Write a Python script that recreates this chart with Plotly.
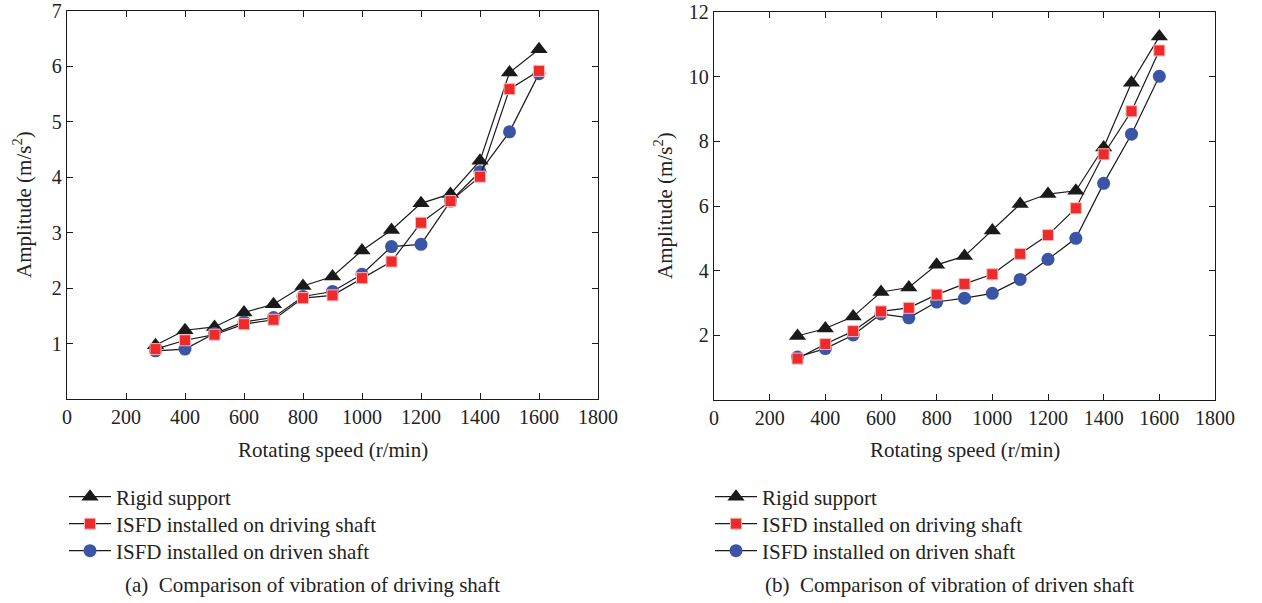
import plotly.graph_objects as go

speed = [300, 400, 500, 600, 700, 800, 900, 1000, 1100, 1200, 1300, 1400, 1500, 1600]

# (a) driving shaft
a_rigid = [0.97, 1.24, 1.30, 1.56, 1.71, 2.04, 2.21, 2.68, 3.05, 3.53, 3.70, 4.30, 5.89, 6.31]
a_driving = [0.90, 1.06, 1.16, 1.35, 1.43, 1.82, 1.87, 2.18, 2.48, 3.18, 3.57, 4.01, 5.59, 5.92]
a_driven = [0.87, 0.90, 1.18, 1.39, 1.47, 1.85, 1.94, 2.25, 2.75, 2.79, 3.57, 4.10, 4.82, 5.87]

# (b) driven shaft
b_rigid = [1.98, 2.21, 2.58, 3.34, 3.48, 4.18, 4.45, 5.24, 6.06, 6.37, 6.47, 7.81, 9.81, 11.24]
b_driving = [1.28, 1.73, 2.13, 2.74, 2.85, 3.26, 3.59, 3.89, 4.52, 5.10, 5.93, 7.60, 8.93, 10.81]
b_driven = [1.33, 1.59, 2.01, 2.66, 2.54, 3.03, 3.15, 3.30, 3.73, 4.35, 5.00, 6.70, 8.22, 10.01]

names = ["Rigid support", "ISFD installed on driving shaft", "ISFD installed on driven shaft"]
captions = ["(a)  Comparison of vibration of driving shaft", "(b)  Comparison of vibration of driven shaft"]

x_ticks = [0, 200, 400, 600, 800, 1000, 1200, 1400, 1600, 1800]
a_yticks = [1, 2, 3, 4, 5, 6, 7]
b_yticks = [2, 4, 6, 8, 10, 12]

FONT = "Liberation Serif"
W, H = 1262, 603
BLACK = "#1a1a1a"
RED = "#ee2a2a"
BLUE = "#3a55a6"
TXT = "#222"

fig = go.Figure()

styles = {
    "rigid": dict(symbol="triangle-up", size=15, color=BLACK, line=dict(width=0)),
    "driving": dict(symbol="square", size=11, color=RED, line=dict(width=1, color="#f7b9b9")),
    "driven": dict(symbol="circle", size=13, color=BLUE, line=dict(width=0)),
}

def add_panel(xa, ya, legends, rigid, driving, driven):
    # draw order: rigid, driven, driving (red on top); each entry has its own legend row
    for key, vals, name, lg in [("rigid", rigid, names[0], legends[0]),
                                ("driven", driven, names[2], legends[2]),
                                ("driving", driving, names[1], legends[1])]:
        fig.add_trace(go.Scatter(
            x=speed, y=vals, mode="lines+markers", name=name,
            line=dict(color=BLACK, width=1.2),
            marker=styles[key], xaxis=xa, yaxis=ya, legend=lg, showlegend=True,
        ))

add_panel("x", "y", ["legend", "legend2", "legend3"], a_rigid, a_driving, a_driven)
add_panel("x2", "y2", ["legend4", "legend5", "legend6"], b_rigid, b_driving, b_driven)

axis_common = dict(
    showline=True, linecolor=BLACK, linewidth=1.3, mirror="ticks",
    ticks="inside", ticklen=6, tickcolor=BLACK, showgrid=False, zeroline=False,
    automargin=False,
    tickfont=dict(family=FONT, size=20, color=TXT),
)

legend_common = dict(xanchor="left", yanchor="middle",
                     font=dict(family=FONT, size=21, color=TXT), bgcolor="rgba(0,0,0,0)",
                     tracegroupgap=0, itemwidth=42)

row_y = [497, 524, 551]
legends = {}
for i, (lx) in enumerate([64, 710]):
    for j, ry in enumerate(row_y):
        key = "legend" if (i == 0 and j == 0) else f"legend{i * 3 + j + 1}"
        legends[key] = dict(x=lx / W, y=1 - ry / H, **legend_common)

fig.update_layout(
    width=W, height=H,
    margin=dict(l=0, r=0, t=0, b=0, autoexpand=False),
    paper_bgcolor="white", plot_bgcolor="white",
    font=dict(family=FONT, size=21, color=TXT),
    xaxis=dict(domain=[67 / W, 598 / W], range=[0, 1800], tickvals=x_ticks, anchor="y", **axis_common),
    yaxis=dict(domain=[1 - 399 / H, 1 - 11 / H], range=[0, 7], tickvals=a_yticks, anchor="x", **axis_common),
    xaxis2=dict(domain=[714 / W, 1215 / W], range=[0, 1800], tickvals=x_ticks, anchor="y2", **axis_common),
    yaxis2=dict(domain=[1 - 400 / H, 1 - 12 / H], range=[0, 12], tickvals=b_yticks, anchor="x2", **axis_common),
    **legends,
)

annots = [
    dict(text="Rotating speed (r/min)", x=(67 + 598) / 2 / W, y=1 - 450 / H),
    dict(text="Rotating speed (r/min)", x=(714 + 1215) / 2 / W, y=1 - 450 / H),
    dict(text="Amplitude (m/s<sup>2</sup>)", x=22 / W, y=1 - 205 / H, textangle=-90),
    dict(text="Amplitude (m/s<sup>2</sup>)", x=663 / W, y=1 - 205 / H, textangle=-90),
    dict(text=captions[0], x=312 / W, y=1 - 585 / H),
    dict(text=captions[1], x=949 / W, y=1 - 585 / H),
]
for a in annots:
    fig.add_annotation(xref="paper", yref="paper", showarrow=False,
                       xanchor="center", yanchor="middle",
                       font=dict(family=FONT, size=21, color=TXT), **a)

fig.write_html("out.html")
